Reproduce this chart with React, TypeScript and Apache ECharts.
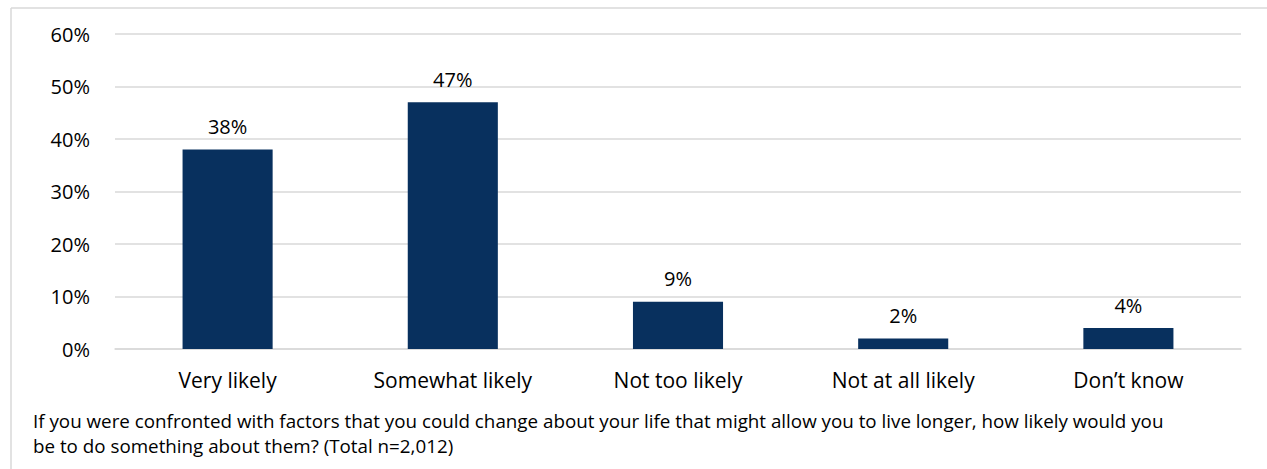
import React, { useEffect, useRef } from "react";
import * as echarts from "echarts";

const categories = ["Very likely", "Somewhat likely", "Not too likely", "Not at all likely", "Don\u2019t know"];
const values = [38, 47, 9, 2, 4];
const captionLines = [
  "If you were confronted with factors that you could change about your life that might allow you to live longer, how likely would you",
  "be to do something about them? (Total n=2,012)",
];

const FONT = "'Open Sans', sans-serif";

export default function App() {
  const ref = useRef<HTMLDivElement>(null);
  useEffect(() => {
    const chart = echarts.init(ref.current!, null, { renderer: "svg" });
    chart.setOption({
      animation: false,
      backgroundColor: "#ffffff",
      textStyle: { fontFamily: FONT },
      grid: { left: 115, right: 26, top: 34, bottom: 120, containLabel: false },
      xAxis: {
        type: "category",
        data: categories,
        axisLine: { lineStyle: { color: "#d9d9d9", width: 1.5 } },
        axisTick: { show: false },
        axisLabel: { color: "#000", fontSize: 21, margin: 20, fontFamily: FONT },
      },
      yAxis: {
        type: "value",
        min: 0,
        max: 60,
        interval: 10,
        axisLine: { show: false },
        axisTick: { show: false },
        splitLine: { lineStyle: { color: "#d9d9d9", width: 1.5 } },
        axisLabel: { color: "#000", fontSize: 20, margin: 25, formatter: "{value}%", fontFamily: FONT },
      },
      series: [
        {
          type: "bar",
          data: values,
          barWidth: "40%",
          itemStyle: { color: "#08305e" },
          label: {
            show: true,
            position: "top",
            distance: 13,
            formatter: "{c}%",
            color: "#000",
            fontSize: 20,
            fontFamily: FONT,
          },
        },
      ],
      graphic: [
        { type: "line", shape: { x1: 11, y1: 8, x2: 1267, y2: 8 }, style: { stroke: "#d9d9d9", lineWidth: 1.5 } },
        { type: "line", shape: { x1: 11, y1: 8, x2: 11, y2: 469 }, style: { stroke: "#d9d9d9", lineWidth: 1.5 } },
        ...captionLines.map((t, i) => ({
          type: "text",
          x: 33,
          y: 421 + i * 25,
          style: { text: t, fill: "#000", fontSize: 18.8, fontFamily: FONT, verticalAlign: "middle" },
        })),
      ],
    });
    return () => chart.dispose();
  }, []);
  return <div ref={ref} style={{ width: 1267, height: 469, position: "absolute", left: 0, top: 0 }} />;
}
